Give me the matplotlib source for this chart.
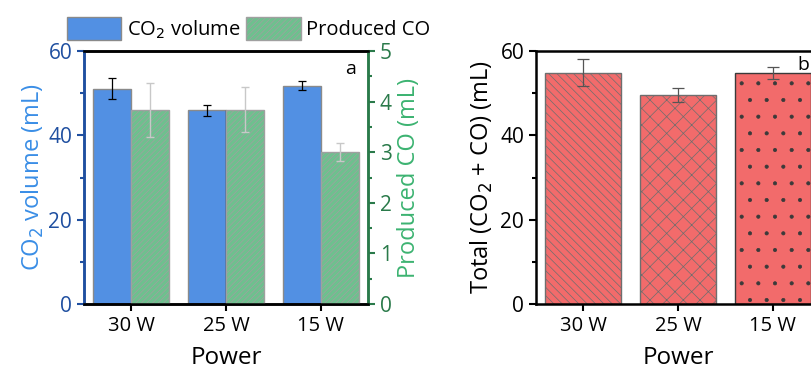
import numpy as np
import matplotlib
matplotlib.use("Agg")
import matplotlib.pyplot as plt
from matplotlib.patches import Patch

plt.rcParams['font.family'] = ['Open Sans', 'DejaVu Sans']
plt.rcParams['hatch.linewidth'] = 0.5

powers = ["30 W", "25 W", "15 W"]
co2_vol = [51.1, 45.9, 51.8]
co2_err = [2.6, 1.2, 1.1]
co_vol = [3.83, 3.84, 3.01]
co_err = [0.53, 0.44, 0.18]
total_vol = [54.9, 49.6, 54.8]
total_err = [3.1, 1.7, 1.4]
total_hatch = ["\\\\\\\\", "xx", "."]

blue_axis = "#1f4fa0"
blue_label = "#3a8ee6"
green_axis = "#2a7a4a"
green_label = "#3cb371"

fig = plt.figure(figsize=(8.11, 3.68), dpi=100)
x = np.arange(len(powers))

# ---- panel a ----
ax = fig.add_axes([84/811, 64/368, 284/811, 253/368])
ax2 = ax.twinx()
ax.bar(x - 0.2, co2_vol, 0.4, color="#5290e3", edgecolor="#8a8a8a", linewidth=1, zorder=2)
ax.errorbar(x - 0.2, co2_vol, yerr=co2_err, fmt="none", ecolor="black",
            elinewidth=0.9, capsize=3, capthick=0.9, zorder=4)
ax.vlines(x[1], 0, min(co2_vol[1], co_vol[1] * 12), color="black", lw=1, zorder=5)
ax2.bar(x + 0.2, co_vol, 0.4, color="#6ec08e", edgecolor="#a0a0a0", linewidth=1,
        hatch="//////", zorder=2)
ax2.errorbar(x + 0.2, co_vol, yerr=co_err, fmt="none", ecolor="#c8c8c8",
             elinewidth=1, capsize=3, capthick=1, zorder=4)

ax.set_xlim(-0.5, 2.5)
ax.set_ylim(0, 60)
ax2.set_ylim(0, 5)
ax.set_xticks(x)
ax.set_xticklabels(powers, fontsize=14.5)
ax.set_yticks([0, 20, 40, 60])
ax.set_yticks([10, 30, 50], minor=True)
ax2.set_yticks([0, 1, 2, 3, 4, 5])
ax2.set_yticks(np.arange(0.5, 5, 1), minor=True)
ax.tick_params(axis="y", colors=blue_axis, labelsize=15, length=5, width=1.5, direction="out")
ax.tick_params(axis="y", which="minor", colors=blue_axis, length=3, width=1.5)
ax.tick_params(axis="x", labelsize=14.5, length=5, width=1.5, colors="black")
ax2.tick_params(axis="y", colors=green_axis, labelsize=15, length=5, width=1.5)
ax2.tick_params(axis="y", which="minor", colors=green_axis, length=3, width=1.5)
for a in (ax, ax2):
    a.spines["left"].set_color(blue_axis)
    a.spines["left"].set_linewidth(1.8)
    a.spines["right"].set_color(green_axis)
    a.spines["right"].set_linewidth(1.8)
    a.spines["top"].set_linewidth(1.8)
    a.spines["bottom"].set_linewidth(1.8)
ax.set_ylabel("CO$_2$ volume (mL)", color=blue_label, fontsize=17, labelpad=2)
ax2.set_ylabel("Produced CO (mL)", color=green_label, fontsize=17, labelpad=4)
ax.set_xlabel("Power", fontsize=17.5, labelpad=7)
ax.text(0.94, 0.93, "a", transform=ax.transAxes, fontsize=14, ha="center", va="center")

handles = [Patch(facecolor="#5290e3", edgecolor="#8a8a8a"),
           Patch(facecolor="#6ec08e", edgecolor="#a0a0a0", hatch="//////")]
fig.legend(handles, ["CO$_2$ volume", "Produced CO"], loc="upper left",
           bbox_to_anchor=(50/811, 1.0), ncol=2, frameon=False, fontsize=14.5,
           handlelength=2.7, handleheight=1.4, handletextpad=0.25, columnspacing=0.3,
           borderaxespad=0.45)

# ---- panel b ----
bx = fig.add_axes([536/811, 64/368, 284/811, 253/368])
bars = bx.bar(x, total_vol, 0.8, color="#f26b6b", edgecolor="#6e6e6e", linewidth=1, zorder=2)
for b, h in zip(bars, total_hatch):
    b.set_hatch(h)
bars[2].set_edgecolor("#3a3a3a")
bx.errorbar(x, total_vol, yerr=total_err, fmt="none", ecolor="#555555",
            elinewidth=0.9, capsize=4, capthick=0.9, zorder=4)
bx.set_xlim(-0.5, 2.5)
bx.set_ylim(0, 60)
bx.set_xticks(x)
bx.set_xticklabels(powers, fontsize=14.5)
bx.set_yticks([0, 20, 40, 60])
bx.set_yticks([10, 30, 50], minor=True)
bx.tick_params(axis="both", labelsize=14.5, length=5, width=1.5)
bx.tick_params(axis="y", labelsize=15)
bx.tick_params(axis="y", which="minor", length=3, width=1.5)
for s in bx.spines.values():
    s.set_linewidth(1.8)
bx.set_ylabel("Total (CO$_2$ + CO) (mL)", fontsize=17, labelpad=4)
bx.set_xlabel("Power", fontsize=17.5, labelpad=7)
fig.text(803/811, 1 - 65/368, "b", fontsize=14, ha="center", va="center")

fig.savefig("out.png", dpi=100)
